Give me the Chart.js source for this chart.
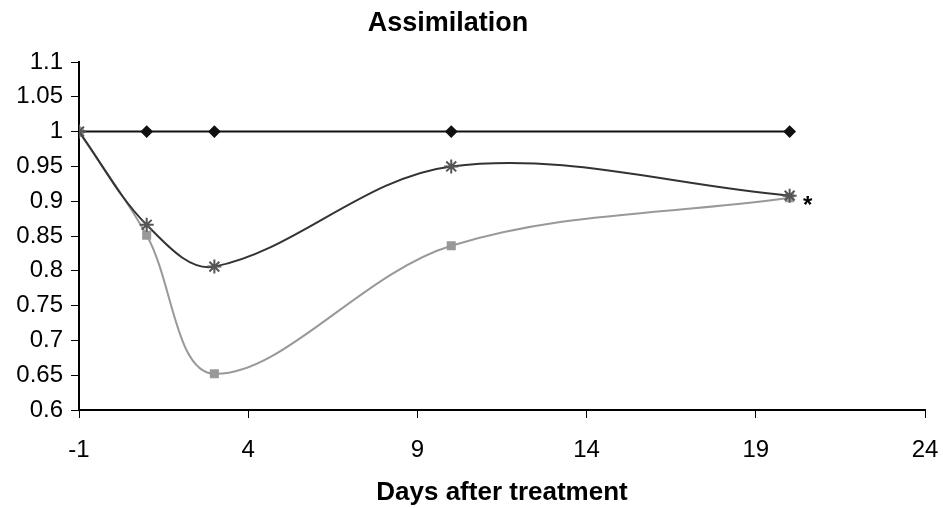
<!DOCTYPE html>
<html>
<head>
<meta charset="utf-8">
<title>Assimilation</title>
<script src="https://cdn.jsdelivr.net/npm/chart.js@4.4.0/dist/chart.umd.min.js"></script>
<style type="text/css">
	body { margin: 0; background: #fff; }
	#chartBox { position: relative; width: 943px; height: 508px; }
</style>
</head>
<body>

	<div id="chartBox">
		<canvas id="assimChart"></canvas>
	</div>

	<script type="text/javascript">

	// days after treatment
	var days = [-1, 1, 3, 10, 20];
	// relative assimilation
	var controlValues = [1, 1, 1, 1, 1];
	var treatAValues = [1, 0.866, 0.806, 0.95, 0.908];
	var treatBValues = [1, 0.851, 0.652, 0.836, 0.905];
	var xTicks = [-1, 4, 9, 14, 19, 24];
	var yTicks = [0.6, 0.65, 0.7, 0.75, 0.8, 0.85, 0.9, 0.95, 1, 1.05, 1.1];

	function toPoints(values) {
		return days.map(function (d, i) { return { x: d, y: values[i] }; });
	}

	var fontName = "'Liberation Sans', Arial, sans-serif";

	// title + the asterisk after the last point
	var extraText = {
		id: 'extraText',
		afterDraw: function (chart) {
			var ctx = chart.ctx;
			ctx.save();
			ctx.fillStyle = '#000';
			ctx.font = 'bold 27px ' + fontName;
			ctx.textAlign = 'center';
			ctx.textBaseline = 'middle';
			ctx.fillText('Assimilation', 448, 24);

			var meta = chart.getDatasetMeta(1);
			var last = meta.data[meta.data.length - 1];
			ctx.font = 'bold 24px ' + fontName;
			ctx.fillText('*', last.x + 18, last.y + 11);
			ctx.restore();
		}
	};

	var ctx = document.getElementById('assimChart').getContext('2d');
	var chartJS = new Chart(ctx, {
		type: 'line',
		data: {
			datasets: [
				{
					data: toPoints(controlValues),
					borderColor: '#111',
					backgroundColor: '#111',
					borderWidth: 2,
					pointStyle: 'rectRot',
					pointRadius: 5,
					tension: 0,
					order: 2
				},
				{
					data: toPoints(treatAValues),
					borderColor: '#333',
					backgroundColor: '#333',
					borderWidth: 2,
					pointStyle: 'star',
					pointRadius: 7,
					pointBorderWidth: 2,
					pointBorderColor: '#555',
					tension: 0.35,
					order: 0
				},
				{
					data: toPoints(treatBValues),
					borderColor: '#999',
					backgroundColor: '#999',
					borderWidth: 2,
					pointStyle: 'rect',
					pointRadius: 5,
					tension: 0.35,
					order: 1
				}
			]
		},
		options: {
			responsive: true,
			maintainAspectRatio: false,
			animation: false,
			layout: { padding: { top: 62, right: 4, left: 4, bottom: 0 } },
			plugins: {
				legend: { display: false },
				title: { display: false },
				tooltip: { enabled: false }
			},
			scales: {
				x: {
					type: 'linear',
					min: xTicks[0],
					max: xTicks[xTicks.length - 1],
					afterBuildTicks: function (axis) {
						axis.ticks = xTicks.map(function (v) { return { value: v }; });
					},
					afterFit: function (axis) {
						axis.height = 98;
						axis.paddingRight = 18;
						axis.paddingLeft = 0;
					},
					grid: { drawOnChartArea: false, drawTicks: true, tickLength: 8, color: '#000' },
					border: { color: '#000', width: 2 },
					ticks: { color: '#000', font: { family: fontName, size: 24 }, padding: 18, maxRotation: 0 },
					title: {
						display: true,
						text: 'Days after treatment',
						color: '#000',
						font: { family: fontName, size: 26, weight: 'bold' },
						padding: { top: 12, bottom: 0 }
					}
				},
				y: {
					min: yTicks[0],
					max: yTicks[yTicks.length - 1],
					afterBuildTicks: function (axis) {
						axis.ticks = yTicks.map(function (v) { return { value: v }; });
					},
					afterFit: function (axis) { axis.width = 75; },
					grid: { drawOnChartArea: false, drawTicks: true, tickLength: 8, color: '#000' },
					border: { color: '#000', width: 2 },
					ticks: {
						color: '#000',
						font: { family: fontName, size: 24 },
						padding: 8,
						callback: function (v) { return String(+Number(v).toFixed(2)); }
					}
				}
			}
		},
		plugins: [extraText]
	});

	</script>

</body>
</html>
